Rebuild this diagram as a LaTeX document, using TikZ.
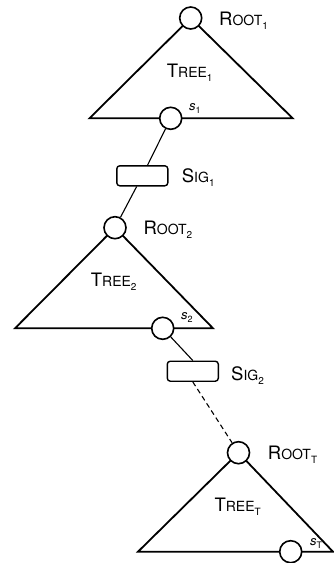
\documentclass[tikz,border=0pt]{standalone}
\usepackage{fontspec}
\setmainfont{TeX Gyre Heros}
\usetikzlibrary{calc}

% Fake small caps with a lowered index: \capsub{R}{OOT}{1}
\newcommand\capsub[3]{{\fontsize{18.5}{18.5}\selectfont #1}{\fontsize{14}{14}\selectfont #2}\raisebox{-4pt}{\fontsize{10}{10}\selectfont #3}}
% Italic s with an index: \sidx{1}
\newcommand\sidx[1]{{\fontsize{13}{13}\selectfont\itshape s}\raisebox{-3pt}{\fontsize{9}{9}\selectfont #1}}

\begin{document}
\begin{tikzpicture}[x=1pt,y=-1pt,
  vertex/.style={circle,draw,line width=1.6pt,fill=white,minimum size=22pt,inner sep=0pt},
  sigbox/.style={rectangle,draw,line width=1.4pt,rounded corners=3pt,fill=white,
                 minimum width=51pt,minimum height=20pt,inner sep=0pt},
  treeline/.style={line width=1.8pt,line join=miter},
  link/.style={line width=1.1pt},
  lbl/.style={inner sep=0pt,anchor=base west}]
\useasboundingbox (0,0) rectangle (334,563);

% tree outlines (apex, left and right corners)
\coordinate (a1) at (190.7,18);  \coordinate (l1) at (89.5,118.3); \coordinate (r1) at (292.7,118.3);
\coordinate (a2) at (115,227.7); \coordinate (l2) at (15,328.3);   \coordinate (r2) at (213,328.3);
\coordinate (a3) at (238.5,452.7); \coordinate (l3) at (138,551.7); \coordinate (r3) at (333,551.7);
\draw[treeline] (a1) -- (l1) -- (r1) -- cycle;
\draw[treeline] (a2) -- (l2) -- (r2) -- cycle;
\draw[treeline] (a3) -- (l3) -- (r3) -- cycle;

% roots, chain points and signatures
\node[vertex] (root1) at (a1) {};
\node[vertex] (s1) at (170.7,118.3) {};
\node[sigbox] (sig1) at (142.3,175.8) {};
\node[vertex] (root2) at (a2) {};
\node[vertex] (s2) at (162.7,328.3) {};
\node[sigbox] (sig2) at (192.8,371.2) {};
\node[vertex] (rootT) at (a3) {};
\node[vertex] (sT) at (290.7,551.7) {};

% connectors
\draw[link] (s1) -- (sig1);
\draw[link] (sig1) -- (root2);
\draw[link] (s2) -- (sig2.north);
\draw[link,dash pattern=on 5pt off 3.5pt] (sig2.south) -- (rootT);

% labels
\node[lbl] (lroot1) at (219,25.7) {\capsub{R}{OOT}{1}};
\node[lbl] (ltree1) at (166.7,77) {\capsub{T}{REE}{1}};
\node[lbl] (ls1) at (189,110) {\sidx{1}};
\node[lbl] (lsig1) at (181.7,182.3) {\capsub{S}{IG}{1}};
\node[lbl] (lroot2) at (143.3,234.3) {\capsub{R}{OOT}{2}};
\node[lbl] (ltree2) at (90.7,286.7) {\capsub{T}{REE}{2}};
\node[lbl] (ls2) at (181,319.3) {\sidx{2}};
\node[lbl] (lsig2) at (231,380) {\capsub{S}{IG}{2}};
\node[lbl] (lrootT) at (267.7,459.3) {\capsub{R}{OOT}{T}};
\node[lbl] (ltreeT) at (214.3,511.7) {\capsub{T}{REE}{T}};
\node[lbl] (lsT) at (310,545) {\sidx{T}};
\end{tikzpicture}
\end{document}
